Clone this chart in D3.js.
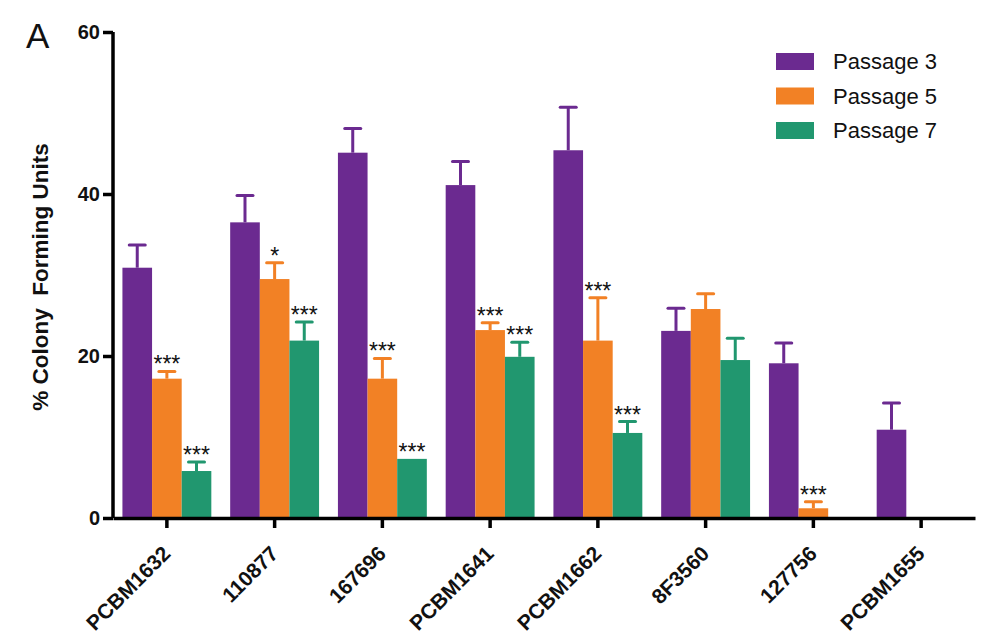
<!DOCTYPE html>
<html lang="en">
<head>
<meta charset="UTF-8">
<title>Colony Forming Units</title>
<script src="https://d3js.org/d3.v7.min.js"></script>
<style>
  body { margin: 0; background: #fff; }
  svg { font-family: "Liberation Sans", Arial, sans-serif; }
</style>
</head>
<body>
<div id="chart"></div>
<script>
const categories = ["PCBM1632", "110877", "167696", "PCBM1641", "PCBM1662", "8F3560", "127756", "PCBM1655"];
const seriesNames = ["Passage 3", "Passage 5", "Passage 7"];
const passage3 = [30.9, 36.5, 45.1, 41.1, 45.4, 23.1, 19.1, 10.9];
const passage5 = [17.2, 29.5, 17.2, 23.2, 21.9, 25.8, 1.2, 0];
const passage7 = [5.8, 21.9, 7.3, 19.9, 10.5, 19.5, 0, 0];
const passage3Err = [2.8, 3.3, 3.0, 2.9, 5.3, 2.8, 2.5, 3.3];
const passage5Err = [0.9, 2.0, 2.5, 0.9, 5.3, 1.9, 0.8, 0];
const passage7Err = [1.1, 2.3, 0, 1.8, 1.4, 2.7, 0, 0];
const passage5Sig = ["***", "*", "***", "***", "***", "", "***", ""];
const passage7Sig = ["***", "***", "***", "***", "***", "", "", ""];
const yTicks = [0, 20, 40, 60];
const colors = ["#6b2a90", "#f28125", "#21976f"];

const values = [passage3, passage5, passage7];
const errors = [passage3Err, passage5Err, passage7Err];
const sigs = [[], passage5Sig, passage7Sig];

const width = 995, height = 643;
const svg = d3.select("#chart").append("svg")
  .attr("width", width).attr("height", height);

const x = d3.scaleBand().domain(categories).range([113, 975]).paddingInner(0.175).paddingOuter(0.0875);
const xs = d3.scaleBand().domain(d3.range(3)).range([0, x.bandwidth()]);
const y = d3.scaleLinear().domain([0, 60]).range([518, 32]);

// one row per bar
const rows = [];
categories.forEach((c, i) => {
  for (let s = 0; s < 3; s++) {
    rows.push({ c, s, v: values[s][i], e: errors[s][i], sig: sigs[s][i] || "" });
  }
});
const cx = d => x(d.c) + xs(d.s) + xs.bandwidth() / 2;

const g = svg.append("g");
g.selectAll("rect.bar").data(rows.filter(d => d.v > 0)).enter().append("rect")
  .attr("class", "bar")
  .attr("x", d => x(d.c) + xs(d.s))
  .attr("width", xs.bandwidth())
  .attr("y", d => y(d.v))
  .attr("height", d => y(0) - y(d.v))
  .attr("fill", d => colors[d.s]);

const eb = g.selectAll("g.err").data(rows.filter(d => d.e > 0)).enter().append("g")
  .attr("stroke", d => colors[d.s]).attr("stroke-width", 3);
eb.append("line")
  .attr("x1", cx).attr("x2", cx)
  .attr("y1", d => y(d.v)).attr("y2", d => y(d.v + d.e));
eb.append("line")
  .attr("x1", d => cx(d) - 8).attr("x2", d => cx(d) + 8)
  .attr("y1", d => y(d.v + d.e)).attr("y2", d => y(d.v + d.e))
  .attr("stroke-linecap", "round");

g.selectAll("text.sig").data(rows.filter(d => d.sig)).enter().append("text")
  .attr("class", "sig")
  .attr("x", cx)
  .attr("y", d => y(d.v + d.e) + 1)
  .attr("text-anchor", "middle")
  .attr("font-size", 23)
  .attr("fill", "#111")
  .text(d => d.sig);

// axes
const yAxis = svg.append("g").attr("transform", "translate(113,0)")
  .call(d3.axisLeft(y).tickValues(yTicks).tickSize(10).tickPadding(3));
yAxis.select(".domain").attr("stroke-width", 3.5).attr("d", `M0,${y(60)}V${y(0)}`);
yAxis.selectAll(".tick line").attr("stroke-width", 3.5);
yAxis.selectAll(".tick text").attr("font-size", 20).attr("font-weight", "bold").attr("fill", "#111");

const xAxis = svg.append("g").attr("transform", `translate(0,${y(0)})`)
  .call(d3.axisBottom(x).tickSize(10).tickSizeOuter(0));
xAxis.select(".domain").attr("stroke-width", 3.5);
xAxis.selectAll(".tick line").attr("stroke-width", 3.5);
xAxis.selectAll(".tick text")
  .attr("font-size", 21).attr("font-weight", "bold").attr("fill", "#111")
  .attr("text-anchor", "end")
  .attr("y", 0).attr("dy", 0)
  .attr("transform", "translate(5,37) rotate(-45)");

svg.append("text")
  .attr("transform", "translate(48,277) rotate(-90)")
  .attr("text-anchor", "middle")
  .attr("font-size", 22.5).attr("font-weight", "bold").attr("fill", "#111")
  .attr("xml:space", "preserve")
  .text("% Colony  Forming Units");

svg.append("text")
  .attr("x", 26).attr("y", 48)
  .attr("font-size", 35).attr("fill", "#111")
  .text("A");

// legend
const legend = svg.append("g").selectAll("g").data(seriesNames).enter().append("g")
  .attr("transform", (d, i) => `translate(776,${53 + i * 34.5})`);
legend.append("rect").attr("width", 38).attr("height", 17).attr("fill", (d, i) => colors[i]);
legend.append("text").attr("x", 57).attr("y", 16)
  .attr("font-size", 22).attr("fill", "#111").text(d => d);
</script>
</body>
</html>
